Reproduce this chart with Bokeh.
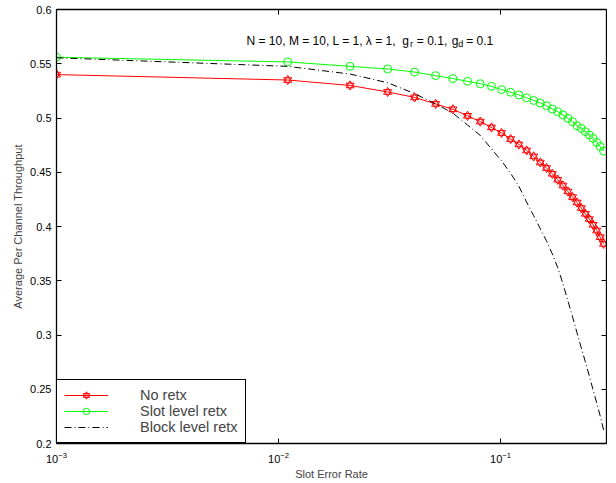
from bokeh.plotting import figure
from bokeh.models import (LogAxis, LinearAxis, FixedTicker, Legend, LegendItem,
                          Label, Range1d, ColumnDataSource)
from bokeh.embed import file_html
from bokeh.resources import INLINE

# ---------------- data ----------------
slot_error_rate = [0.001, 0.011, 0.021, 0.031, 0.041, 0.051, 0.061, 0.071, 0.081, 0.091,
                   0.101, 0.111, 0.121, 0.131, 0.141, 0.151, 0.161, 0.171, 0.181, 0.191,
                   0.201, 0.211, 0.221, 0.231, 0.241, 0.251, 0.261, 0.271, 0.281, 0.291]

no_retx = [0.540, 0.535, 0.530, 0.524, 0.519, 0.513, 0.508, 0.502, 0.4967, 0.4913,
           0.4862, 0.4806, 0.4756, 0.4701, 0.4646, 0.4590, 0.4539, 0.4486, 0.4431, 0.4378,
           0.4323, 0.4271, 0.4221, 0.4170, 0.4117, 0.4068, 0.4016, 0.3963, 0.3902, 0.3840]

slot_level = [0.556, 0.5517, 0.5476, 0.5452, 0.5424, 0.5390, 0.5363, 0.5338, 0.5316, 0.5292,
              0.5262, 0.5238, 0.5212, 0.5186, 0.5162, 0.5138, 0.5113, 0.5083, 0.5058, 0.5028,
              0.4996, 0.4966, 0.4929, 0.4904, 0.4874, 0.4843, 0.4812, 0.4775, 0.4738, 0.4695]

block_level = [0.5555, 0.5476, 0.5405, 0.5325, 0.5225, 0.5130, 0.5045, 0.4935, 0.4840, 0.4715,
               0.4605, 0.4490, 0.4370, 0.4225, 0.4099, 0.3979, 0.3868, 0.3748, 0.3620, 0.3471,
               0.3315, 0.3167, 0.3020, 0.2881, 0.2752, 0.2623, 0.2494, 0.2374, 0.2254, 0.2125]

x_ticks = [0.001, 0.01, 0.1]
y_ticks = [0.2, 0.25, 0.3, 0.35, 0.4, 0.45, 0.5, 0.55, 0.6]
y_tick_labels = ["0.2", "0.25", "0.3", "0.35", "0.4", "0.45", "0.5", "0.55", "0.6"]

legend_labels = ["No retx", "Slot level retx", "Block level retx"]

FONT = "Liberation Sans"

# ---------------- figure ----------------
p = figure(x_axis_type="log", x_range=Range1d(0.001, 0.3), y_range=Range1d(0.2, 0.6),
           frame_width=550, frame_height=434,
           min_border_left=56, min_border_right=1, min_border_top=13, min_border_bottom=36,
           output_backend="svg", toolbar_location=None)
p.styles = {"margin-top": "-4px", "margin-bottom": "-8px"}
p.grid.visible = False
p.outline_line_color = None
p.background_fill_color = "white"
p.border_fill_color = "white"

src = ColumnDataSource(dict(x=slot_error_rate, a=no_retx, b=slot_level, c=block_level))

r_line = p.line("x", "a", source=src, line_color="#ff0000", line_width=1)
r_t1 = p.scatter("x", "a", source=src, marker="triangle", size=8, fill_color=None,
                 line_color="#ff0000", line_width=1)
r_t2 = p.scatter("x", "a", source=src, marker="inverted_triangle", size=8, fill_color=None,
                 line_color="#ff0000", line_width=1)

g_line = p.line("x", "b", source=src, line_color="#00ff00", line_width=1)
g_c = p.scatter("x", "b", source=src, marker="circle", size=8, fill_color=None,
                line_color="#00ff00", line_width=1)

k_line = p.line("x", "c", source=src, line_color="black", line_width=1, line_dash="7 3 1 3")

# ---------------- axes ----------------
def style_axis(ax, labels=True):
    ax.major_tick_in = 5
    ax.major_tick_out = 0
    ax.minor_tick_line_color = None
    ax.axis_line_color = "black"
    ax.axis_line_width = 1.3
    ax.major_tick_line_color = "black"
    ax.major_tick_line_width = 1
    ax.major_label_text_font = FONT
    ax.major_label_text_font_size = "11px"
    if labels:
        ax.major_label_text_color = "black"
    else:
        ax.major_label_text_color = None
        ax.major_label_standoff = 0

xa = p.xaxis[0]
xa.ticker = FixedTicker(ticks=x_ticks, minor_ticks=[])
style_axis(xa)
xa.major_label_standoff = 8
xa.axis_label = "Slot Error Rate"
xa.axis_label_text_font = FONT
xa.axis_label_text_font_size = "11px"
xa.axis_label_text_font_style = "normal"
xa.axis_label_standoff = 2

ya = p.yaxis[0]
ya.ticker = FixedTicker(ticks=y_ticks, minor_ticks=[])
ya.major_label_overrides = {t: s for t, s in zip(y_ticks, y_tick_labels)}
style_axis(ya)
ya.major_label_standoff = 5
ya.axis_label = "Average Per Channel Throughput"
ya.axis_label_text_font = FONT
ya.axis_label_text_font_size = "11px"
ya.axis_label_text_font_style = "normal"
ya.axis_label_standoff = 3

top = LogAxis(ticker=FixedTicker(ticks=x_ticks, minor_ticks=[]))
style_axis(top, labels=False)
top.major_label_text_font_size = "1px"
p.add_layout(top, "above")

right = LinearAxis(ticker=FixedTicker(ticks=y_ticks, minor_ticks=[]))
style_axis(right, labels=False)
right.major_label_text_font_size = "1px"
p.add_layout(right, "right")

# ---------------- legend ----------------
legend = Legend(items=[LegendItem(label=legend_labels[0], renderers=[r_line, r_t1, r_t2]),
                       LegendItem(label=legend_labels[1], renderers=[g_line, g_c]),
                       LegendItem(label=legend_labels[2], renderers=[k_line])],
                location="bottom_left", margin=0, padding=7, spacing=0,
                label_height=16, glyph_height=16, glyph_width=44, label_standoff=32,
                border_line_color="black", border_line_width=1, border_line_alpha=1,
                background_fill_color="white", background_fill_alpha=1,
                label_text_font=FONT, label_text_font_size="14.5px")
p.add_layout(legend)

# ---------------- annotation text ----------------
def px_x(px):
    return 10 ** (-3 + (px - 57) / 222.0)

def px_y(py):
    return 0.2 + (444 - py) / 1085.0

pieces = [("N = 10, M = 10, L = 1, \u03bb = 1,", 247, 41.7, "12px"),
          ("g", 402.7, 41.7, "12px"),
          ("r", 410.5, 44.3, "9px"),
          ("= 0.1,", 417.3, 41.7, "12px"),
          ("g", 452.3, 41.7, "12px"),
          ("d", 458.7, 44.3, "9px"),
          ("= 0.1", 466.7, 41.7, "12px")]
for txt, px, py, fs in pieces:
    p.add_layout(Label(x=px_x(px), y=px_y(py), text=txt, text_font=FONT, text_font_size=fs,
                       text_align="left", text_baseline="alphabetic", text_color="black"))

open("out.html", "w").write(file_html(p, INLINE))
